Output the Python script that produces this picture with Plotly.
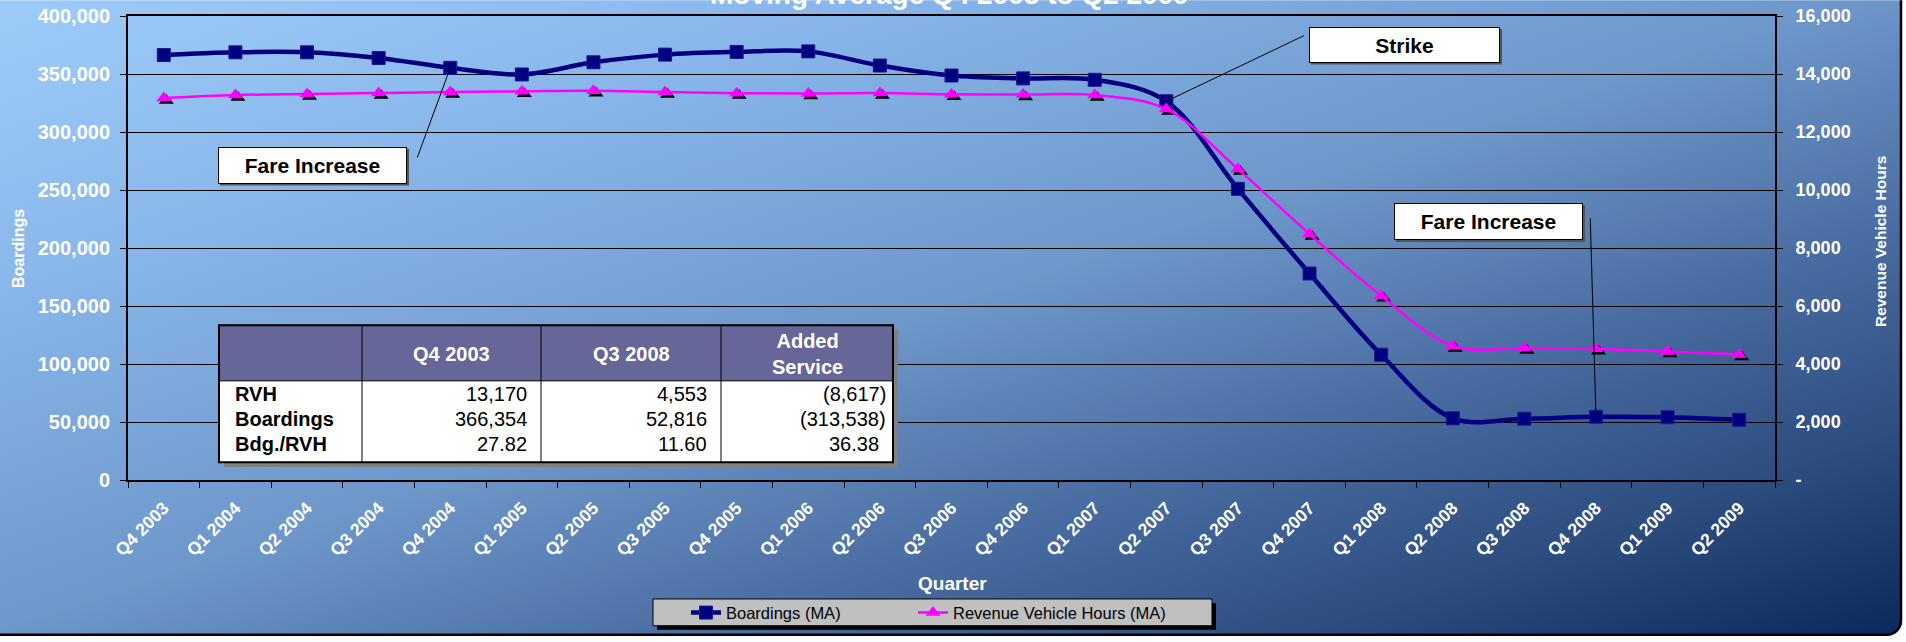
import base64
import plotly.graph_objects as go

# ---------------- data ----------------
QUARTERS = ["Q4 2003", "Q1 2004", "Q2 2004", "Q3 2004", "Q4 2004", "Q1 2005", "Q2 2005",
            "Q3 2005", "Q4 2005", "Q1 2006", "Q2 2006", "Q3 2006", "Q4 2006", "Q1 2007",
            "Q2 2007", "Q3 2007", "Q4 2007", "Q1 2008", "Q2 2008", "Q3 2008", "Q4 2008",
            "Q1 2009", "Q2 2009"]
BOARDINGS = [366354, 368700, 368700, 363800, 355300, 349600, 360100, 366700, 369000,
             369500, 357300, 348700, 346200, 345000, 326500, 251000, 178000, 108000,
             53200, 52816, 54500, 54100, 51900]
RVH = [13170, 13275, 13310, 13344, 13378, 13402, 13425, 13380, 13340, 13325, 13345,
       13300, 13290, 13276, 12790, 10720, 8480, 6350, 4620, 4553, 4524, 4434, 4331]

TITLE = "Moving Average Q4 2003 to Q2 2009"
LEFT_TICKS = [0, 50000, 100000, 150000, 200000, 250000, 300000, 350000, 400000]
RIGHT_TICKS = [0, 2000, 4000, 6000, 8000, 10000, 12000, 14000, 16000]

TABLE_HEADERS = ["", "Q4 2003", "Q3 2008", "Added<br>Service"]
TABLE_ROWS = ["RVH", "Boardings", "Bdg./RVH"]
TABLE_VALUES = [[13170, 4553, -8617],
                [366354, 52816, -313538],
                [27.82, 11.60, 36.38]]
TABLE_DECIMALS = [0, 0, 2]

# callouts: (label, index of data point in BOARDINGS, line tail in data coords)
CALLOUTS = [("Fare Increase", 4, (3.54, 278000)),
            ("Strike", 14, (15.92, 383000)),
            ("Fare Increase", 20, (19.92, 225600))]

# ---------------- geometry ----------------
W, H = 1906, 642
ML, MR, MT, MB = 128, 131, 16, 158
PW, PH = W - ML - MR, H - MT - MB
FONT = "Liberation Sans, Arial, sans-serif"


def px(x):
    return (x - ML) / PW


def py(y):
    return (H - MB - y) / PH


def fmt(v, dec):
    s = f"{abs(v):,.{dec}f}"
    return f"({s})" if v < 0 else s


# ---------------- background (gradient chart area) ----------------
svg = f'''<svg xmlns="http://www.w3.org/2000/svg" width="{W}" height="{H}" viewBox="0 0 {W} {H}" preserveAspectRatio="none">
<defs><linearGradient id="g" x1="0" y1="0" x2="1" y2="1">
<stop offset="0" stop-color="#A0CEFA"/>
<stop offset="0.25" stop-color="#88B6EA"/>
<stop offset="0.5" stop-color="#6E97CA"/>
<stop offset="0.72" stop-color="#43669B"/>
<stop offset="0.86" stop-color="#2B4A7C"/>
<stop offset="1" stop-color="#0B2A5C"/>
</linearGradient></defs>
<rect x="0" y="0" width="{W}" height="{H}" fill="white"/>
<rect x="-20" y="-20" width="{W + 15}" height="{H + 18}" rx="14" ry="14" fill="url(#g)" stroke="black" stroke-width="2.5"/>
</svg>'''
bg_uri = "data:image/svg+xml;base64," + base64.b64encode(svg.encode()).decode()

fig = go.Figure()

fig.add_trace(go.Scatter(
    x=QUARTERS, y=BOARDINGS, name="Boardings (MA)", mode="lines+markers",
    line=dict(color="#000080", width=4.5, shape="spline", smoothing=1),
    marker=dict(symbol="square", size=13, color="#000080", line=dict(color="#1a1a90", width=1)),
    xaxis="x", yaxis="y", legend="legend"))

# shadow of triangles (drawn on a slightly shifted, hidden pair of axes)
fig.add_trace(go.Scatter(
    x=QUARTERS, y=RVH, mode="markers", showlegend=False, hoverinfo="skip",
    marker=dict(symbol="triangle-up", size=13, color="black"),
    xaxis="x2", yaxis="y2"))

fig.add_trace(go.Scatter(
    x=QUARTERS, y=RVH, name="Revenue Vehicle Hours (MA)", mode="lines+markers",
    line=dict(color="#FF00FF", width=2.5, shape="spline", smoothing=1),
    marker=dict(symbol="triangle-up", size=13, color="#FF00FF"),
    xaxis="x3", yaxis="y3", legend="legend2"))

n = len(QUARTERS)
eps_x = 2.5 / (PW / n)
eps_y = 2.5 * RIGHT_TICKS[-1] / PH

bold = dict(family=FONT, color="white", weight="bold")
legend_common = dict(orientation="h", xanchor="left", y=py(618), yanchor="middle",
                     bgcolor="rgba(0,0,0,0)", borderwidth=0,
                     font=dict(family=FONT, size=16.5, color="black"), itemwidth=30)
fig.update_layout(
    width=W, height=H, autosize=False,
    margin=dict(l=ML, r=MR, t=MT, b=MB, pad=0),
    paper_bgcolor="white", plot_bgcolor="#C0C0C0",
    font=dict(family=FONT),
    showlegend=True,
    legend=dict(legend_common, x=px(686)),
    legend2=dict(legend_common, x=px(913)),
    xaxis=dict(type="category", range=[-0.5, n - 0.5], tickson="boundaries",
               ticks="outside", ticklen=6, tickcolor="black", tickwidth=1,
               showline=True, linecolor="black", linewidth=2, mirror=True,
               showgrid=False, tickangle=-45, automargin=False,
               ticklabelshift=0, ticklabelstandoff=9,
               tickfont=dict(bold, size=17.5)),
    yaxis=dict(range=[0, LEFT_TICKS[-1]], tickvals=LEFT_TICKS,
               ticktext=[f"{v:,}" for v in LEFT_TICKS],
               ticks="outside", ticklen=6, tickcolor="black", automargin=False,
               ticklabelstandoff=6,
               showline=True, linecolor="black", linewidth=2,
               showgrid=True, gridcolor="black", gridwidth=1, zeroline=False,
               tickfont=dict(bold, size=20)),
    xaxis2=dict(type="category", overlaying="x", range=[-0.5 - eps_x, n - 0.5 - eps_x],
                visible=False, showgrid=False),
    yaxis2=dict(overlaying="y", range=[eps_y, RIGHT_TICKS[-1] + eps_y], anchor="x2",
                visible=False, showgrid=False),
    xaxis3=dict(type="category", overlaying="x", range=[-0.5, n - 0.5],
                visible=False, showgrid=False),
    yaxis3=dict(range=[0, RIGHT_TICKS[-1]], tickvals=RIGHT_TICKS,
                ticktext=["-" if v == 0 else f"{v:,}" for v in RIGHT_TICKS],
                overlaying="y", side="right", anchor="x3", automargin=False,
                ticks="outside", ticklen=6, tickcolor="black", ticklabelstandoff=9,
                showline=True, linecolor="black", linewidth=2,
                showgrid=False, zeroline=False,
                tickfont=dict(bold, size=18)),
    images=[dict(source=bg_uri, xref="paper", yref="paper", x=px(0), y=py(0),
                 sizex=W / PW, sizey=H / PH, xanchor="left", yanchor="top",
                 sizing="stretch", layer="below")],
)

shapes = []
annotations = []

# title (partly above the top edge, as in the original) and axis titles
annotations.append(dict(text=f"<b>{TITLE}</b>", xref="paper", yref="paper",
                        x=px(949), y=py(-6), xanchor="center", yanchor="middle",
                        showarrow=False, font=dict(family=FONT, size=28, color="white")))
annotations.append(dict(text="<b>Quarter</b>", xref="paper", yref="paper",
                        x=px(953), y=py(588), xanchor="center", yanchor="middle",
                        showarrow=False, font=dict(family=FONT, size=19, color="white")))
annotations.append(dict(text="<b>Boardings</b>", xref="paper", yref="paper",
                        x=px(18), y=py(250), xanchor="center", yanchor="middle",
                        textangle=-90, showarrow=False,
                        font=dict(family=FONT, size=16, color="white")))
annotations.append(dict(text="<b>Revenue Vehicle Hours</b>", xref="paper", yref="paper",
                        x=px(1880), y=py(243), xanchor="center", yanchor="middle",
                        textangle=-90, showarrow=False,
                        font=dict(family=FONT, size=15.5, color="white")))

# callout boxes
BOXES = [(218, 148, 407, 185), (1309, 27, 1500, 63), (1394, 205, 1583, 242)]
for (label, idx, tail), (bx0, by0, bx1, by1) in zip(CALLOUTS, BOXES):
    shapes.append(dict(type="line", xref="x", yref="y", x0=tail[0], y0=tail[1],
                       x1=idx, y1=BOARDINGS[idx], line=dict(color="black", width=1),
                       layer="above"))
    shapes.append(dict(type="rect", xref="paper", yref="paper",
                       x0=px(bx0 + 2), x1=px(bx1 + 2), y0=py(by0 + 2), y1=py(by1 + 2),
                       fillcolor="#555555", line=dict(width=0), layer="above"))
    annotations.append(dict(text=f"<b>{label}</b>", xref="paper", yref="paper",
                            x=px((bx0 + bx1) / 2), y=py((by0 + by1) / 2),
                            xanchor="center", yanchor="middle", showarrow=False,
                            width=bx1 - bx0 - 4, height=by1 - by0 - 4,
                            bgcolor="white", bordercolor="black", borderwidth=1,
                            font=dict(family=FONT, size=21, color="black")))

# legend frame + shadow
shapes.append(dict(type="rect", xref="paper", yref="paper",
                   x0=px(657), x1=px(1216), y0=py(608), y1=py(635),
                   fillcolor="black", line=dict(width=0), layer="above"))
shapes.append(dict(type="rect", xref="paper", yref="paper",
                   x0=px(653), x1=px(1212), y0=py(604), y1=py(631),
                   fillcolor="#C0C0C0", line=dict(color="black", width=1), layer="above"))

# table
TX = [219, 362, 541, 721, 893]
TY = [328, 384, 411, 438, 466]
shapes.append(dict(type="rect", xref="paper", yref="paper",
                   x0=px(TX[0] + 5), x1=px(TX[-1] + 5), y0=py(TY[0] + 5), y1=py(TY[-1] + 5),
                   fillcolor="#808080", line=dict(width=0), layer="above"))
shapes.append(dict(type="rect", xref="paper", yref="paper",
                   x0=px(TX[0]), x1=px(TX[-1]), y0=py(TY[1]), y1=py(TY[-1]),
                   fillcolor="white", line=dict(width=0), layer="above"))
shapes.append(dict(type="rect", xref="paper", yref="paper",
                   x0=px(TX[0]), x1=px(TX[-1]), y0=py(TY[0]), y1=py(TY[1]),
                   fillcolor="#666699", line=dict(color="black", width=1), layer="above"))
for xv in TX[1:-1]:
    shapes.append(dict(type="line", xref="paper", yref="paper",
                       x0=px(xv), x1=px(xv), y0=py(TY[0]), y1=py(TY[-1]),
                       line=dict(color="black", width=1), layer="above"))
shapes.append(dict(type="rect", xref="paper", yref="paper",
                   x0=px(TX[0]), x1=px(TX[-1]), y0=py(TY[0]), y1=py(TY[-1]),
                   fillcolor="rgba(0,0,0,0)", line=dict(color="black", width=2), layer="above"))

for j, htxt in enumerate(TABLE_HEADERS):
    if not htxt:
        continue
    annotations.append(dict(text=f"<b>{htxt}</b>", xref="paper", yref="paper",
                            x=px((TX[j] + TX[j + 1]) / 2), y=py(357), xanchor="center",
                            yanchor="middle", showarrow=False,
                            font=dict(family=FONT, size=20, color="white")))
ROW_CY = [397, 422, 448]
for i, rlabel in enumerate(TABLE_ROWS):
    annotations.append(dict(text=f"<b>{rlabel}</b>", xref="paper", yref="paper",
                            x=px(TX[0] + 14), y=py(ROW_CY[i]), xanchor="left",
                            yanchor="middle", showarrow=False,
                            font=dict(family=FONT, size=20, color="black")))
    for j, v in enumerate(TABLE_VALUES[i]):
        s = fmt(v, TABLE_DECIMALS[i])
        pad = 5 if s.endswith(")") else 12
        annotations.append(dict(text=s, xref="paper", yref="paper",
                                x=px(TX[j + 2] - pad), y=py(ROW_CY[i]), xanchor="right",
                                yanchor="middle", showarrow=False,
                                font=dict(family=FONT, size=20, color="black")))

fig.update_layout(shapes=shapes, annotations=annotations)
fig.write_html("out.html", config={"displayModeBar": False},
               post_script="document.body.style.margin='0';document.body.style.padding='0';"
                           "document.documentElement.style.overflow='hidden';")
